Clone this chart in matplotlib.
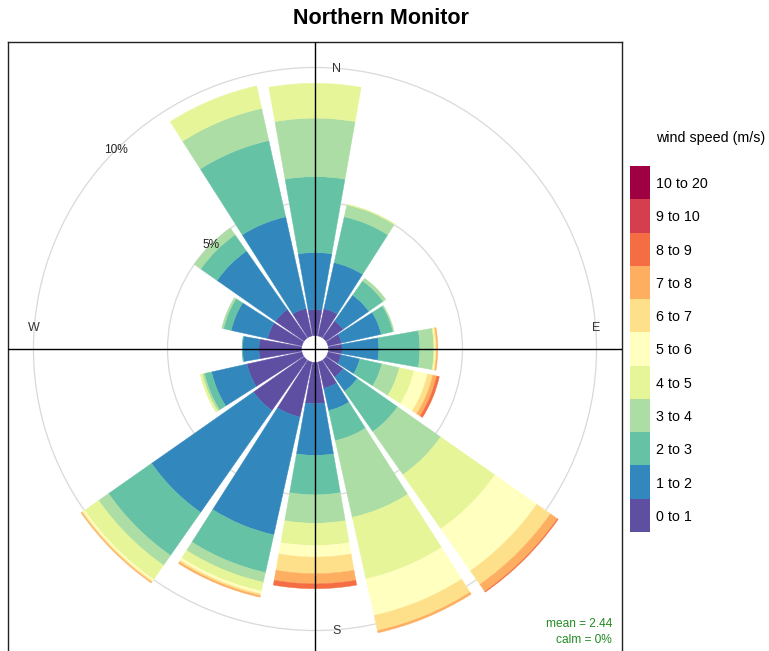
import numpy as np
import matplotlib.pyplot as plt
from matplotlib.patches import Wedge, Circle

plt.rcParams['font.family'] = ['Liberation Sans', 'DejaVu Sans']

# wind directions (deg clockwise from N), 16 sectors
directions = np.arange(0, 360, 22.5)

speed_labels = ['0 to 1', '1 to 2', '2 to 3', '3 to 4', '4 to 5', '5 to 6',
                '6 to 7', '7 to 8', '8 to 9', '9 to 10', '10 to 20']
colours = ['#5E4FA2', '#3288BD', '#66C2A5', '#ABDDA4', '#E6F598', '#FFFFBF',
           '#FEE08B', '#FDAE61', '#F46D43', '#D53E4F', '#9E0142']

# frequency (%) per speed bin, directions N, NNE, NE, ... NNW
s0_1 = [0.97, 1.04, 0.78, 0.52, 0.51, 0.50, 0.78, 1.00, 1.54, 2.10, 2.30, 2.10, 1.59, 1.31, 1.30, 1.05]
s1_2 = [2.13, 1.76, 1.17, 1.51, 1.37, 0.71, 0.64, 0.85, 1.93, 4.50, 4.64, 1.35, 0.61, 1.39, 2.66, 3.50]
s2_3 = [2.83, 1.75, 0.65, 0.45, 1.53, 0.84, 1.84, 1.15, 1.47, 1.44, 1.96, 0.27, 0.02, 0.29, 0.74, 2.91]
s3_4 = [2.18, 0.45, 0.12, 0.04, 0.52, 0.67, 1.96, 2.93, 1.06, 0.37, 0.45, 0.08, 0.00, 0.07, 0.30, 1.23]
s4_5 = [1.30, 0.03, 0.00, 0.00, 0.04, 0.56, 2.47, 2.35, 0.83, 0.34, 0.64, 0.08, 0.00, 0.00, 0.00, 0.86]
s5_6 = [0.00, 0.00, 0.00, 0.00, 0.03, 0.52, 1.91, 1.40, 0.43, 0.10, 0.08, 0.00, 0.00, 0.00, 0.00, 0.00]
s6_7 = [0.00, 0.00, 0.00, 0.00, 0.04, 0.20, 0.62, 0.58, 0.62, 0.07, 0.05, 0.00, 0.00, 0.00, 0.00, 0.00]
s7_8 = [0.00, 0.00, 0.00, 0.00, 0.04, 0.15, 0.32, 0.08, 0.38, 0.06, 0.03, 0.00, 0.00, 0.00, 0.00, 0.00]
s8_9 = [0.00, 0.00, 0.00, 0.00, 0.00, 0.10, 0.03, 0.00, 0.18, 0.00, 0.00, 0.00, 0.00, 0.00, 0.00, 0.00]
s9_10 = [0.0] * 16
s10_20 = [0.0] * 16
freqs = [s0_1, s1_2, s2_3, s3_4, s4_5, s5_6, s6_7, s7_8, s8_9, s9_10, s10_20]

mean_ws = 2.44
calm = 0

fig = plt.figure(figsize=(7.69, 6.51), dpi=100)
ax = fig.add_axes([8/769, 1-656/651, 614/769, 614/651])

hole = 0.5
half = 10.0
lim = 11.45

cum = np.zeros(len(directions))
for vals, col in zip(freqs, colours):
    vals = np.asarray(vals)
    for d, r0, v in zip(directions, cum, vals):
        if v <= 0:
            continue
        th = 90 - d
        ax.add_patch(Wedge((0, 0), hole + r0 + v, th - half, th + half, width=v,
                           facecolor=col, edgecolor=col, lw=0.3, zorder=2))
    cum = cum + vals

# grid circles
for g in [5, 10]:
    ax.add_patch(Circle((0, 0), hole + g, fill=False, ec='#d9d9d9', lw=0.9, zorder=1))
    a = np.deg2rad(135)
    ax.text((hole + g) * np.cos(a), (hole + g) * np.sin(a), f'{g}%',
            ha='center', va='center', fontsize=8.6, color='#222222', zorder=4)

ax.axhline(0, color='black', lw=1, zorder=3)
ax.axvline(0, color='black', lw=1, zorder=3)

rr = hole + 10
off = 0.8
ax.text(off, rr - 0.05, 'N', ha='center', va='center', fontsize=9, color='#333333')
ax.text(rr, off, 'E', ha='center', va='center', fontsize=9, color='#333333')
ax.text(off, -rr, 'S', ha='center', va='center', fontsize=9, color='#333333')
ax.text(-rr, off, 'W', ha='center', va='center', fontsize=9, color='#333333')

ax.set_xlim(-lim, lim)
ax.set_ylim(-lim, lim)
ax.set_aspect('equal')
ax.set_xticks([])
ax.set_yticks([])
for sp in ax.spines.values():
    sp.set_color('#222222')
    sp.set_linewidth(1)

fig.text(381/769, 1-18/651, 'Northern Monitor', ha='center', va='center',
         fontsize=15.5, fontweight='bold')

# legend key
lax = fig.add_axes([630/769, 1-532/651, 20/769, 366/651])
for i, col in enumerate(colours):
    lax.bar(0.5, 1, bottom=i, width=1, color=col)
lax.set_xlim(0, 1)
lax.set_ylim(0, len(colours))
lax.set_xticks([])
lax.yaxis.tick_right()
lax.set_yticks(np.arange(len(colours)) + 0.5)
lax.set_yticklabels(speed_labels, fontsize=10.3)
lax.tick_params(axis='y', length=0, pad=4.5)
for sp in lax.spines.values():
    sp.set_visible(False)
fig.text(656/769, 1-138/651, 'wind speed (m/s)', ha='left', va='center', fontsize=10.3)

fig.text(612/769, 1-624/651, f'mean = {mean_ws}', ha='right', va='center',
         fontsize=8.6, color='forestgreen')
fig.text(612/769, 1-640/651, f'calm = {calm}%', ha='right', va='center',
         fontsize=8.6, color='forestgreen')

fig.savefig('out.png', dpi=100)
